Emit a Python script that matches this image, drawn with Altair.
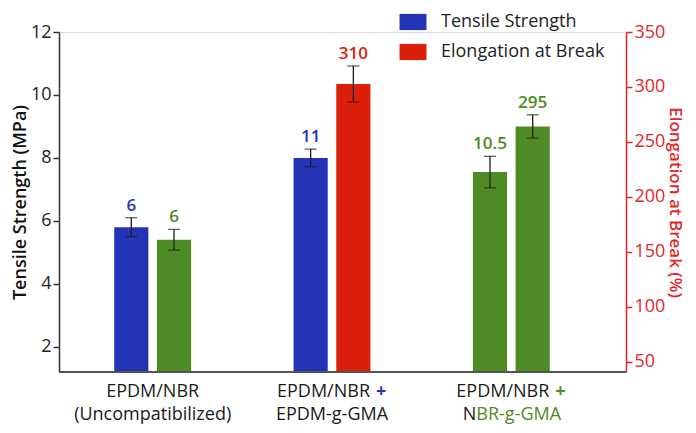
import altair as alt
import pandas as pd

FONT = "Open Sans"

# ---- data ----
groups = ["EPDM/NBR (Uncompatibilized)", "EPDM/NBR + EPDM-g-GMA", "EPDM/NBR + NBR-g-GMA"]
bar_group = [0, 0, 1, 1, 2, 2]
bar_slot = [0, 1, 0, 1, 0, 1]
bar_series = ["Tensile Strength", "Other", "Tensile Strength", "Elongation at Break", "Other", "Other"]
bar_value_mpa = [5.8, 5.4, 8.0, 10.35, 7.55, 9.0]
bar_err_mpa = [0.3, 0.33, 0.28, 0.57, 0.5, 0.37]
bar_label = ["6", "6", "11", "310", "10.5", "295"]

left_ticks = [2, 4, 6, 8, 10, 12]
right_ticks = [50, 100, 150, 200, 250, 300, 350]

xlab_line1 = ["EPDM/NBR", "EPDM/NBR", "EPDM/NBR"]
xlab_plus = ["", "+", "+"]
xlab_line2 = ["(Uncompatibilized)", "EPDM-g-GMA", "NBR-g-GMA"]

series_domain = ["Tensile Strength", "Elongation at Break", "Other"]
series_colors = ["#2434b6", "#dc1f0b", "#4f8b25"]
plus_colors = ["#222222", "#2434b6", "#4f8b25"]

W, H = 567, 340
Y_MIN = 1.2

df = pd.DataFrame({
    "group": [groups[g] for g in bar_group],
    "slot": bar_slot,
    "series": bar_series,
    "value": bar_value_mpa,
    "err": bar_err_mpa,
    "label": bar_label,
})
df["lo"] = df["value"] - df["err"]
df["hi"] = df["value"] + df["err"]

xscale = alt.Scale(domain=groups, range=[4, 542], paddingInner=0.5, paddingOuter=0.25)
xenc = alt.X("group:N", scale=xscale, axis=None)
xoff = alt.XOffset("slot:N", scale=alt.Scale(paddingInner=0.2, paddingOuter=0.15))
yscale = alt.Scale(domain=[Y_MIN, 12], nice=False, zero=False)
cscale = alt.Scale(domain=series_domain, range=series_colors)

left_axis = alt.Axis(values=left_ticks, title="Tensile Strength (MPa)", grid=False,
                     domainColor="#333333", domainWidth=1.5, tickColor="#333333",
                     tickWidth=1.5, tickSize=6, labelFontSize=18, labelColor="#222222",
                     labelPadding=2, labelFont=FONT, titleFont=FONT, titleFontSize=18,
                     titleFontWeight=600, titleColor="#111111", titlePadding=1)

base = alt.Chart(df)

bars = base.mark_bar(clip=True).encode(
    x=xenc, xOffset=xoff,
    y=alt.Y("value:Q", scale=yscale, axis=left_axis),
    y2=alt.datum(Y_MIN),
    color=alt.Color("series:N", scale=cscale,
                    legend=alt.Legend(orient="none", legendX=345, legendY=-19, title=None,
                                      values=["Tensile Strength", "Elongation at Break"],
                                      symbolType="M-2,-1.2H2V1.2H-2Z", symbolSize=182,
                                      symbolStrokeWidth=0, symbolOpacity=1,
                                      labelFontSize=18, labelFont=FONT, labelColor="#222222",
                                      labelLimit=400,
                                      rowPadding=12, labelOffset=19, padding=0)),
)

baseline = base.mark_rule(color="#555555", strokeWidth=1.5).encode(
    x=alt.value(0), x2=alt.value(W), y=alt.value(H))

rules = base.mark_rule(color="#1e1e1e", strokeWidth=1.3).encode(
    x=xenc, xOffset=xoff, y=alt.Y("lo:Q", scale=yscale), y2="hi:Q")
cap_lo = base.mark_tick(color="#1e1e1e", size=12, thickness=1.3).encode(
    x=xenc, xOffset=xoff, y=alt.Y("lo:Q", scale=yscale))
cap_hi = base.mark_tick(color="#1e1e1e", size=12, thickness=1.3).encode(
    x=xenc, xOffset=xoff, y=alt.Y("hi:Q", scale=yscale))

vlabels = base.mark_text(baseline="bottom", dy=-3, fontSize=17, fontWeight=600, font=FONT).encode(
    x=xenc, xOffset=xoff, y=alt.Y("hi:Q", scale=yscale), text="label:N",
    color=alt.Color("series:N", scale=cscale, legend=None))

# x category labels
lab = pd.DataFrame({"group": groups, "l1": xlab_line1, "plus": xlab_plus, "l2": xlab_line2,
                    "pc": plus_colors})
lab["l2a"] = [t if i < 2 else "" for i, t in enumerate(xlab_line2)]
lab["n"] = ["", "", xlab_line2[2][:1]]
lab["rest"] = ["", "", xlab_line2[2][1:]]
lbase = alt.Chart(lab)
tstyle = dict(fontSize=18, font=FONT, baseline="middle")
Y1, Y2 = H + 20, H + 43
l1_center = lbase.transform_filter("datum.plus == ''").mark_text(color="#1a1a1a", **tstyle).encode(
    x=xenc, y=alt.value(Y1), text="l1:N")
l1_right = lbase.transform_filter("datum.plus != ''").mark_text(color="#1a1a1a", align="right", dx=38, **tstyle).encode(
    x=xenc, y=alt.value(Y1), text="l1:N")
l1_plus = lbase.transform_filter("datum.plus != ''").mark_text(align="left", dx=44, fontWeight=700, **tstyle).encode(
    x=xenc, y=alt.value(Y1), text="plus:N", color=alt.Color("pc:N", scale=None))
l2_center = lbase.transform_filter("datum.l2a != ''").mark_text(color="#1a1a1a", **tstyle).encode(
    x=xenc, y=alt.value(Y2), text="l2a:N")
l2_n = lbase.transform_filter("datum.n != ''").mark_text(color="#1a1a1a", align="right", dx=-35, **tstyle).encode(
    x=xenc, y=alt.value(Y2), text="n:N")
l2_rest = lbase.transform_filter("datum.rest != ''").mark_text(color="#4f8b25", align="left", dx=-35, **tstyle).encode(
    x=xenc, y=alt.value(Y2), text="rest:N")

left = alt.layer(bars, baseline, rules, cap_lo, cap_hi, vlabels,
                 l1_center, l1_right, l1_plus, l2_center, l2_n, l2_rest)

right = alt.Chart(pd.DataFrame({"v": right_ticks})).mark_point(opacity=0).encode(
    y=alt.Y("v:Q", scale=alt.Scale(domain=[40.7, 350], nice=False, zero=False),
            axis=alt.Axis(orient="right", values=right_ticks, title="Elongation at Break (%)",
                          grid=False, domainColor="#e3262a", domainWidth=1.5,
                          tickColor="#e3262a", tickWidth=1.5, tickSize=6,
                          labelColor="#e3262a", labelFontSize=18, labelFont=FONT,
                          labelPadding=2, titleColor="#e3262a", titleFont=FONT,
                          titleFontSize=17, titleFontWeight=600, titlePadding=1)))

chart = alt.layer(left, right).resolve_scale(y="independent").properties(
    width=W, height=H, padding={"left": 3, "top": 5, "right": 4, "bottom": 0}
).configure_view(stroke=None).configure(background="white")

chart.save("out.html", embed_options={"renderer": "svg", "actions": False})
